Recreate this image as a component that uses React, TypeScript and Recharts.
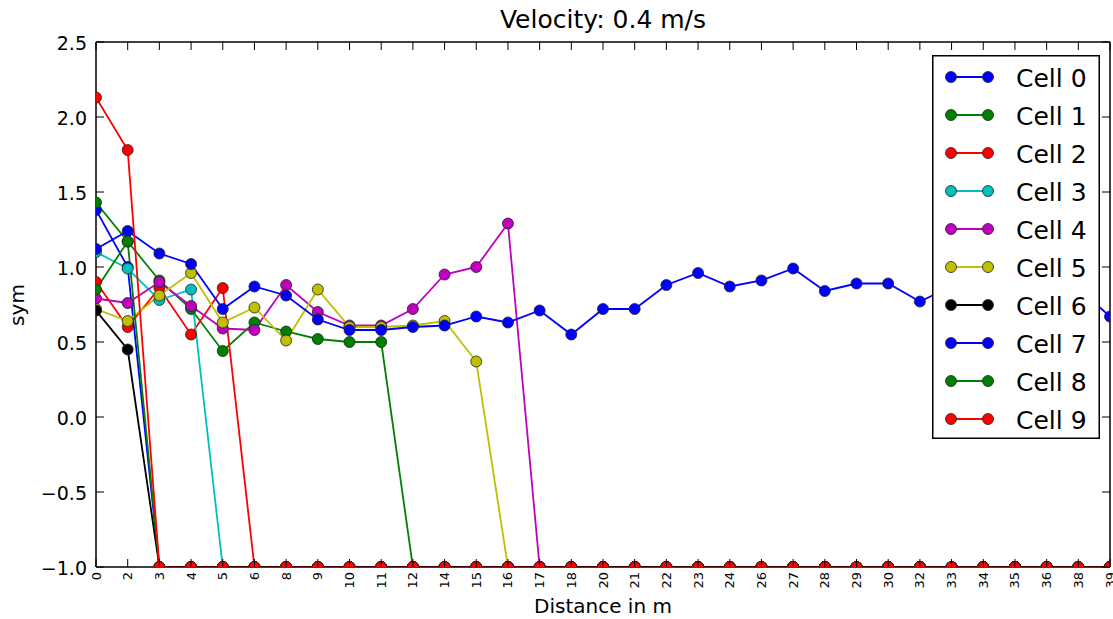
import { LineChart, Line, XAxis, YAxis, Legend, Customized } from "recharts";

// distance labels along the x axis (equally spaced categories)
const distances = [
  "0", "2", "3", "4", "5", "6", "8", "9", "10", "11", "12", "14", "15", "16", "17", "18",
  "20", "21", "22", "23", "24", "26", "27", "28", "29", "30", "32", "33", "34", "35", "36", "38", "39",
];

const cell0 = [
  1.38, 1.0, -1, -1, -1, -1, -1, -1, -1, -1, -1, -1, -1, -1, -1, -1,
  -1, -1, -1, -1, -1, -1, -1, -1, -1, -1, -1, -1, -1, -1, -1, -1, -1,
];
const cell1 = [
  1.43, 1.17, 0.91, 0.72, 0.44, 0.63, 0.57, 0.52, 0.5, 0.5, -1, -1, -1, -1, -1, -1,
  -1, -1, -1, -1, -1, -1, -1, -1, -1, -1, -1, -1, -1, -1, -1, -1, -1,
];
const cell2 = [
  0.9, 0.6, 0.86, 0.55, 0.86, -1, -1, -1, -1, -1, -1, -1, -1, -1, -1, -1,
  -1, -1, -1, -1, -1, -1, -1, -1, -1, -1, -1, -1, -1, -1, -1, -1, -1,
];
const cell3 = [
  1.1, 0.99, 0.78, 0.85, -1, -1, -1, -1, -1, -1, -1, -1, -1, -1, -1, -1,
  -1, -1, -1, -1, -1, -1, -1, -1, -1, -1, -1, -1, -1, -1, -1, -1, -1,
];
const cell4 = [
  0.79, 0.76, 0.9, 0.74, 0.59, 0.58, 0.88, 0.7, 0.61, 0.61, 0.72, 0.95, 1.0, 1.29, -1, -1,
  -1, -1, -1, -1, -1, -1, -1, -1, -1, -1, -1, -1, -1, -1, -1, -1, -1,
];
const cell5 = [
  0.72, 0.64, 0.81, 0.96, 0.63, 0.73, 0.51, 0.85, 0.6, 0.6, 0.61, 0.64, 0.37, -1, -1, -1,
  -1, -1, -1, -1, -1, -1, -1, -1, -1, -1, -1, -1, -1, -1, -1, -1, -1,
];
const cell6 = [
  0.71, 0.45, -1, -1, -1, -1, -1, -1, -1, -1, -1, -1, -1, -1, -1, -1,
  -1, -1, -1, -1, -1, -1, -1, -1, -1, -1, -1, -1, -1, -1, -1, -1, -1,
];
const cell7 = [
  1.12, 1.24, 1.09, 1.02, 0.72, 0.87, 0.81, 0.65, 0.58, 0.58, 0.6, 0.61, 0.67, 0.63, 0.71, 0.55,
  0.72, 0.72, 0.88, 0.96, 0.87, 0.91, 0.99, 0.84, 0.89, 0.89, 0.77, 0.87, 0.85, 0.9, 0.88, 0.86, 0.67,
];
const cell8 = [
  0.85, 1.17, -1, -1, -1, -1, -1, -1, -1, -1, -1, -1, -1, -1, -1, -1,
  -1, -1, -1, -1, -1, -1, -1, -1, -1, -1, -1, -1, -1, -1, -1, -1, -1,
];
const cell9 = [
  2.13, 1.78, -1, -1, -1, -1, -1, -1, -1, -1, -1, -1, -1, -1, -1, -1,
  -1, -1, -1, -1, -1, -1, -1, -1, -1, -1, -1, -1, -1, -1, -1, -1, -1,
];

const cellNames = ["Cell 0", "Cell 1", "Cell 2", "Cell 3", "Cell 4", "Cell 5", "Cell 6", "Cell 7", "Cell 8", "Cell 9"];
const cellColors = ["#0000ff", "#008000", "#ff0000", "#00bfbf", "#bf00bf", "#bfbf00", "#000000", "#0000ff", "#008000", "#ff0000"];
const cellValues = [cell0, cell1, cell2, cell3, cell4, cell5, cell6, cell7, cell8, cell9];
const yTicks = [-1, -0.5, 0, 0.5, 1, 1.5, 2, 2.5];

const data = distances.map((d, i) => {
  const row: Record<string, string | number> = { distance: d };
  cellValues.forEach((vals, c) => {
    row[`cell${c}`] = vals[i];
  });
  return row;
});

const FONT = '"DejaVu Sans", sans-serif';
const TICK = 8;
// plot box: markers on the edges get cut in half like the axes frame does
const PLOT = { x: 96, y: 42, width: 1014, height: 525 };

const fmtY = (v: number) => (v < 0 ? "\u2212" + Math.abs(v).toFixed(1) : v.toFixed(1));

function BottomTick({ x, y, payload }: any) {
  return (
    <g>
      <line x1={x} y1={y} x2={x} y2={y - TICK} stroke="#000" strokeWidth={1} />
      <text
        x={x}
        y={y + 5}
        transform={`rotate(-90, ${x}, ${y + 5})`}
        textAnchor="end"
        dominantBaseline="central"
        fontSize={13}
        fontFamily={FONT}
        fill="#000"
      >
        {payload.value}
      </text>
    </g>
  );
}

function TopTick({ x, y }: any) {
  return <line x1={x} y1={y} x2={x} y2={y + TICK} stroke="#000" strokeWidth={1} />;
}

function LeftTick({ x, y, payload }: any) {
  return (
    <g>
      <line x1={x} y1={y} x2={x + TICK} y2={y} stroke="#000" strokeWidth={1} />
      <text
        x={x - 9}
        y={y + 1}
        textAnchor="end"
        dominantBaseline="central"
        fontSize={19}
        fontFamily={FONT}
        fill="#000"
      >
        {fmtY(payload.value)}
      </text>
    </g>
  );
}

function RightTick({ x, y }: any) {
  return <line x1={x} y1={y} x2={x - TICK} y2={y} stroke="#000" strokeWidth={1} />;
}

function makeDot(color: string) {
  return (props: any) => {
    const { cx, cy, index } = props;
    if (cx == null || cy == null) return <g key={index} />;
    return (
      <circle
        key={index}
        cx={cx}
        cy={cy}
        r={5.5}
        fill={color}
        stroke="#222"
        strokeWidth={0.8}
        clipPath="url(#plot-area)"
      />
    );
  };
}

function CellLegend({ payload }: any) {
  const items = payload || [];
  return (
    <svg width={168} height={384} style={{ display: "block" }}>
      <rect x={0.75} y={0.75} width={166.5} height={382.5} fill="#fff" stroke="#000" strokeWidth={1.5} />
      {items.map((p: any, i: number) => {
        const cy = 22 + 38 * i;
        return (
          <g key={p.value}>
            <line x1={19} y1={cy} x2={56} y2={cy} stroke={p.color} strokeWidth={1.8} />
            <circle cx={19} cy={cy} r={5.5} fill={p.color} stroke="#222" strokeWidth={0.8} />
            <circle cx={56} cy={cy} r={5.5} fill={p.color} stroke="#222" strokeWidth={0.8} />
            <text x={84} y={cy + 1} dominantBaseline="central" fontSize={25} fontFamily={FONT} fill="#000">
              {p.value}
            </text>
          </g>
        );
      })}
    </svg>
  );
}

function PlotClip() {
  return (
    <defs>
      <clipPath id="plot-area">
        <rect x={PLOT.x} y={PLOT.y} width={PLOT.width} height={PLOT.height} />
      </clipPath>
    </defs>
  );
}

function Titles() {
  return (
    <g fontFamily={FONT} fill="#000">
      <text x={603} y={28} textAnchor="middle" fontSize={25}>
        Velocity: 0.4 m/s
      </text>
      <text x={603} y={613} textAnchor="middle" fontSize={20}>
        Distance in m
      </text>
      <text x={24} y={305} textAnchor="middle" fontSize={20} transform="rotate(-90, 24, 305)">
        sym
      </text>
    </g>
  );
}

export default function App() {
  return (
    <div style={{ position: "absolute", left: 0, top: 0, background: "#fff" }}>
      <LineChart width={1113} height={619} data={data} margin={{ top: 0, right: 0, bottom: 0, left: 0 }}>
        <Customized component={PlotClip} />
        <XAxis
          dataKey="distance"
          type="category"
          interval={0}
          height={52}
          tickSize={0}
          tickMargin={0}
          tickLine={false}
          axisLine={{ stroke: "#000", strokeWidth: 1.5 }}
          tick={<BottomTick />}
          allowDataOverflow
        />
        <XAxis
          xAxisId="top"
          orientation="top"
          dataKey="distance"
          type="category"
          interval={0}
          height={42}
          tickSize={0}
          tickMargin={0}
          tickLine={false}
          axisLine={{ stroke: "#000", strokeWidth: 1.5 }}
          tick={<TopTick />}
        />
        <YAxis
          type="number"
          domain={[-1, 2.5]}
          ticks={yTicks}
          width={96}
          tickSize={0}
          tickMargin={0}
          tickLine={false}
          axisLine={{ stroke: "#000", strokeWidth: 1.5 }}
          tick={<LeftTick />}
          allowDataOverflow
        />
        <YAxis
          yAxisId="right"
          orientation="right"
          type="number"
          domain={[-1, 2.5]}
          ticks={yTicks}
          width={3}
          tickSize={0}
          tickMargin={0}
          tickLine={false}
          axisLine={{ stroke: "#000", strokeWidth: 1.5 }}
          tick={<RightTick />}
          allowDataOverflow
        />
        {cellNames.map((name, c) => (
          <Line
            key={name}
            type="linear"
            dataKey={`cell${c}`}
            name={name}
            stroke={cellColors[c]}
            strokeWidth={1.8}
            dot={makeDot(cellColors[c])}
            activeDot={false}
            isAnimationActive={false}
          />
        ))}
        <Legend
          layout="vertical"
          align="center"
          verticalAlign="middle"
          content={<CellLegend />}
          wrapperStyle={{ left: 932, top: 55, width: 168, height: 384 }}
        />
        <Customized component={Titles} />
      </LineChart>
    </div>
  );
}
